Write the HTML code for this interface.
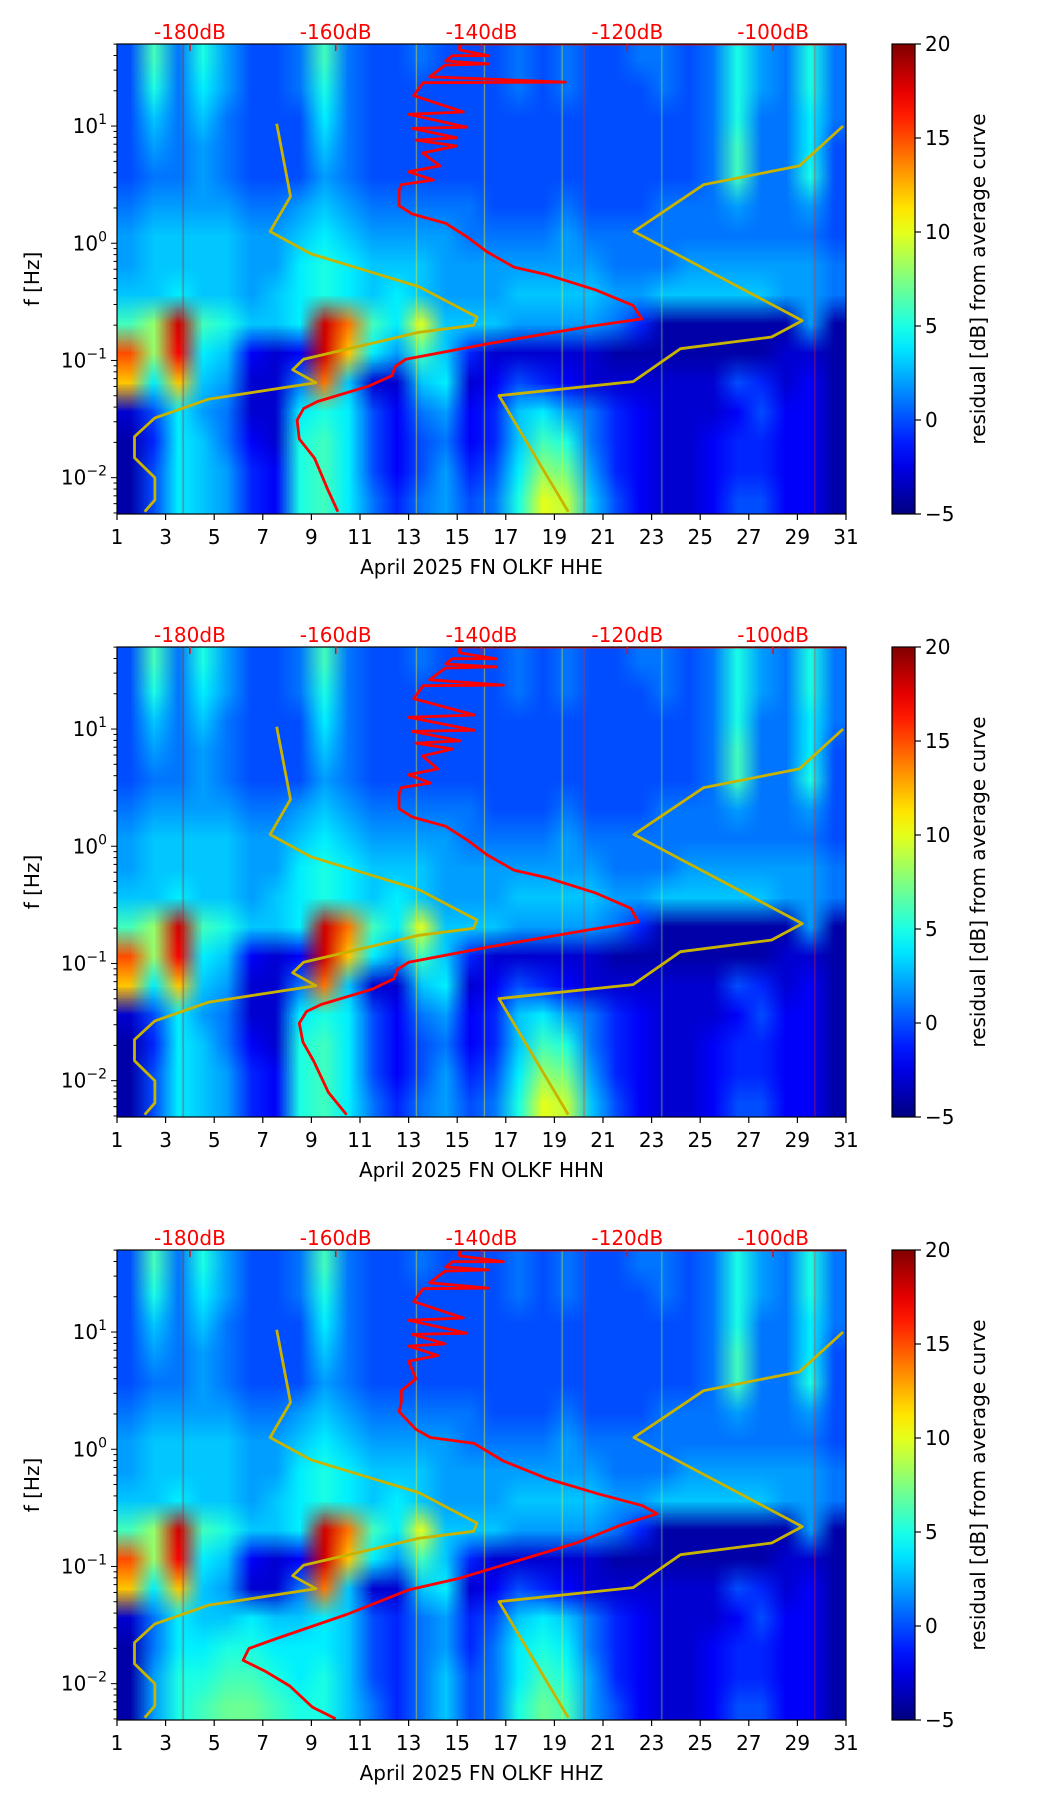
<!DOCTYPE html>
<html><head><meta charset="utf-8">
<style>
html,body{margin:0;padding:0;background:#fff;}
body{width:1052px;height:1806px;position:relative;overflow:hidden;font-family:"DejaVu Sans","Liberation Sans",sans-serif;}
canvas{position:absolute;}
svg{position:absolute;left:0;top:0;}
</style></head>
<body>
<div id="root"></div>
<script>
// ---- data ----
const channels = ["HHE","HHN","HHZ"];
const dbTicks = [-180,-160,-140,-120,-100];
const cbTicks = [-5,0,5,10,15,20];
const dayTicks = [1,3,5,7,9,11,13,15,17,19,21,23,25,27,29,31];
const heatCommon = [
[0,6,1,5,2,0,0,1,6,1,0,0,1,0,0,0,1,0,1,0,0,1,1,0,1,5,2,1,5,1],
[0,5,1,4,2,0,0,1,5,1,0,0,0,0,0,0,1,0,1,0,0,0,1,0,1,5,2,1,5,1],
[0,3,1,3,1,0,0,0,4,1,0,0,0,0,0,0,0,0,0,0,0,0,0,0,1,5,1,1,4,1],
[0,2,1,2,1,0,0,0,3,1,0,0,0,0,0,0,0,0,0,0,0,0,0,0,1,6,1,1,4,0],
[0,1,1,2,1,0,0,0,2,1,0,0,0,0,0,0,0,0,0,0,0,0,0,0,1,6,1,1,5,0],
[1,2,2,2,2,1,1,2,3,2,1,1,1,1,1,0,0,0,1,0,0,0,1,1,1,2,1,1,2,0],
[2,3,3,3,3,2,2,3,4,3,2,2,2,2,1,1,1,1,2,1,1,1,1,1,1,1,1,1,1,0],
[2,3,3,3,3,2,2,4,5,4,3,3,3,2,2,2,2,2,2,2,1,1,1,2,2,2,2,2,2,1],
[3,3,4,3,3,2,3,4,5,4,3,4,3,2,2,2,3,3,3,3,2,2,3,3,3,3,3,2,2,1],
[6,8,18,6,5,3,3,4,18,14,6,4,10,3,3,3,2,2,2,2,1,-1,-4,-4,-4,-4,-4,-4,2,-4],
[15,8,17,4,3,-2,-3,-2,18,12,4,2,6,3,-1,-3,-3,-3,-3,-3,-4,-4,-4,-4,-4,-4,-4,-3,-3,-4],
[12,4,12,3,2,-3,-3,1,14,3,-3,-3,3,4,-3,-2,0,-1,-2,-3,-3,-3,-3,-3,-3,0,-1,-3,-2,-4],
[-3,0,4,2,1,-3,-3,4,5,4,0,-2,1,2,-2,-1,3,4,2,1,-1,-2,-3,-3,-3,-2,0,-2,-2,-4],
[-4,-1,4,3,1,-2,-3,5,6,4,0,-2,0,1,-2,-1,3,6,5,1,-1,-2,-3,-3,-2,-1,-1,-2,-2,-4],
[-4,0,4,3,2,-1,-2,5,6,4,0,-2,0,2,-1,0,4,8,7,2,-1,-2,-3,-3,-2,-1,-1,-2,-2,-4],
[-4,0,4,3,2,-1,-2,5,6,4,1,-1,1,2,0,1,5,10,9,3,0,-2,-3,-3,-2,0,0,-2,-2,-4]];
const heatZLow = [
[-3,1,4,3,3,4,3,3,4,3,0,-1,1,2,-1,0,3,4,3,1,-1,-2,-3,-3,-3,-2,0,-2,-2,-4],
[-4,1,4,4,5,5,4,4,4,3,0,-1,1,2,-1,1,4,5,4,1,-1,-2,-3,-3,-2,-1,-1,-2,-2,-4],
[-4,2,5,5,6,6,5,4,5,3,0,-1,1,3,0,1,4,6,5,2,-1,-2,-3,-3,-2,-1,-1,-2,-2,-4],
[-4,2,5,6,7,7,6,5,5,3,1,-1,1,3,0,1,5,7,6,2,0,-2,-3,-3,-2,0,0,-2,-2,-4]];
const streakDay = [3.7,13.3,16.1,19.3,20.2,23.4,29.7];
const streakVal = [18,11,11,10,16,8,16];
const redDbE = [-90,-143,-143,-139,-144,-144.9,-139,-145,-147.1,-128.5,-148,-149.3,-142.5,-150,-142,-149.5,-143.4,-149,-143.4,-148.1,-145.7,-150,-146.6,-151,-151.3,-151.3,-149.5,-144.9,-142,-139.2,-135.5,-130.9,-124.3,-119.2,-118,-125.3,-139.3,-150.4,-151.8,-152.3,-155.5,-162.5,-164.4,-165.3,-165,-162.9,-161.1,-159.7];
const redLfE = [1.70,1.70,1.65,1.60,1.60,1.555,1.53,1.52,1.42,1.375,1.37,1.26,1.12,1.10,0.99,0.98,0.90,0.88,0.83,0.77,0.66,0.61,0.54,0.50,0.45,0.32,0.25,0.17,0.055,-0.075,-0.205,-0.27,-0.40,-0.53,-0.645,-0.71,-0.86,-0.99,-1.05,-1.13,-1.22,-1.35,-1.41,-1.51,-1.67,-1.835,-2.10,-2.29];
const redDbN = [-90,-143,-143,-138,-144,-144.9,-138,-145,-147.1,-137,-148,-149.3,-141,-150,-141,-149.5,-143,-149,-144,-148.1,-146,-150,-147,-151,-151.3,-151.3,-149.5,-144.9,-142,-139.2,-135.5,-130.9,-124.3,-119.5,-118.5,-125,-139,-150,-151.5,-152,-155,-162,-164,-165,-164.5,-163,-161,-158.5];
const redLfN = redLfE;
const redDbZ = [-90,-143,-143,-137,-144,-144.9,-139,-145,-147.1,-139,-148,-149.3,-142.5,-150,-142,-149.5,-145,-150,-146,-150,-149,-151,-151,-151.3,-149,-147,-141,-137,-131,-124,-118,-115.9,-121,-127,-135,-143,-150,-158.5,-167.9,-171.9,-172.7,-169.5,-166.3,-163.2,-160];
const redLfZ = [1.70,1.70,1.65,1.60,1.60,1.555,1.53,1.52,1.42,1.375,1.37,1.26,1.12,1.10,0.99,0.98,0.90,0.88,0.80,0.75,0.60,0.50,0.40,0.32,0.17,0.10,0.05,-0.10,-0.25,-0.38,-0.48,-0.55,-0.65,-0.80,-0.95,-1.10,-1.20,-1.41,-1.61,-1.70,-1.80,-1.90,-2.02,-2.20,-2.30];
const lowDb = [-168.1,-166.2,-169.0,-163.4,-148.6,-140.6,-141.1,-148.6,-164.4,-165.9,-162.7,-177.4,-184.8,-187.6,-187.6,-184.8,-184.8,-186.2];
const lowLf = [1.02,0.40,0.10,-0.09,-0.37,-0.63,-0.70,-0.76,-0.99,-1.08,-1.19,-1.33,-1.49,-1.65,-1.83,-2.00,-2.19,-2.29];
const highDb = [-90.4,-96.4,-109.5,-119.1,-96.0,-100.2,-112.7,-119.2,-137.6,-128.1];
const highLf = [1.0,0.66,0.50,0.10,-0.66,-0.80,-0.90,-1.18,-1.30,-2.29];

// ---- layout ----
const X0=117, X1=846, H=470, TOPS=[44,647,1250];
const LFMAX=1.70, LFMIN=-2.31;
const CBX0=892, CBX1=915;
const FS=20;
const NS="http://www.w3.org/2000/svg";
function xOf(d){return X0+(d-1)*(X1-X0)/30;}
function dbX(db){return xOf(4+(db+180)*0.3);}
function yOf(T,lf){return T+(LFMAX-lf)/(LFMAX-LFMIN)*H;}
function jet(v){let t=(v+5)/25;t=Math.max(0,Math.min(1,t));
 const c=x=>Math.max(0,Math.min(1,x));
 const r=c(1.5-Math.abs(4*t-3)), g=c(1.5-Math.abs(4*t-2)), b=c(1.5-Math.abs(4*t-1));
 return [Math.round(r*255),Math.round(g*255),Math.round(b*255)];}
function rgb(a){return `rgb(${a[0]},${a[1]},${a[2]})`;}

const root=document.getElementById('root');
const svg=document.createElementNS(NS,'svg');
svg.setAttribute('width','1052');svg.setAttribute('height','1806');


function mk(tag,attrs,parent){const e=document.createElementNS(NS,tag);for(const k in attrs)e.setAttribute(k,attrs[k]);(parent||svg).appendChild(e);return e;}

const defs=mk('defs',{});
const grad=mk('linearGradient',{id:'jetg',x1:'0',y1:'1',x2:'0',y2:'0'},defs);
for(let i=0;i<=20;i++){const v=-5+25*i/20;mk('stop',{offset:(i/20).toString(),'stop-color':rgb(jet(v))},grad);}

channels.forEach((ch,pi)=>{
 const T=TOPS[pi];
 const small=document.createElement('canvas');small.width=30;small.height=16;
 const sctx=small.getContext('2d');const img=sctx.createImageData(30,16);
 for(let r=0;r<16;r++)for(let c=0;c<30;c++){
   let v=heatCommon[r][c];
   if(ch==="HHZ"&&r>=12)v=heatZLow[r-12][c];
   const col=jet(v);const k=(r*30+c)*4;img.data[k]=col[0];img.data[k+1]=col[1];img.data[k+2]=col[2];img.data[k+3]=255;}
 sctx.putImageData(img,0,0);
 const cv=document.createElement('canvas');cv.width=X1-X0;cv.height=H;
 cv.style.left=X0+'px';cv.style.top=T+'px';
 
 
 const ctx=cv.getContext('2d');ctx.imageSmoothingEnabled=true;ctx.drawImage(small,0,0,30,16,0,0,cv.width,cv.height);
 ctx.globalAlpha=0.6;
 streakDay.forEach((d,i)=>{ctx.fillStyle=rgb(jet(streakVal[i]));ctx.fillRect(xOf(d)-X0,0,1,H);});
 ctx.globalAlpha=1;
 root.appendChild(cv);

 const g=mk('g',{});
 
 
 const cp=mk('clipPath',{id:'clip'+pi},defs);mk('rect',{x:X0,y:T,width:X1-X0,height:H},cp);
 function poly(dbs,lfs,color,w,name){const pts=dbs.map((d,i)=>dbX(d).toFixed(1)+','+yOf(T,lfs[i]).toFixed(1)).join(' ');
   const p=mk('polyline',{points:pts,fill:'none',stroke:color,'stroke-width':w,'stroke-linejoin':'round','clip-path':`url(#clip${pi})`},g);
   }
 poly(lowDb,lowLf,'#c8b400',2.8,'low-noise-model-line');
 poly(highDb,highLf,'#c8b400',2.8,'high-noise-model-line');
 const rd=ch==="HHE"?[redDbE,redLfE]:ch==="HHN"?[redDbN,redLfN]:[redDbZ,redLfZ];
 poly(rd[0],rd[1],'#ff0000',2.8,'average-psd-curve');
 mk('rect',{x:X0,y:T,width:X1-X0,height:H,fill:'none',stroke:'#000','stroke-width':1.2},g);
 dayTicks.forEach(d=>{const x=xOf(d);mk('line',{x1:x,y1:T+H,x2:x,y2:T+H+6,stroke:'#000','stroke-width':1.2},g);
   const t=mk('text',{x:x,y:T+H+30,'font-size':FS,'text-anchor':'middle',fill:'#000'},g);t.textContent=d;
   });
 const xl=mk('text',{x:(X0+X1)/2,y:T+H+60,'font-size':FS,'text-anchor':'middle',fill:'#000'},g);
 xl.textContent='April 2025 FN OLKF  '+ch;
 
 for(let e=-3;e<=1;e++){for(let m=1;m<10;m++){const lf=e+Math.log10(m);if(lf<LFMIN||lf>LFMAX)continue;const y=yOf(T,lf);
   mk('line',{x1:X0,y1:y,x2:X0-(m===1?6:3.5),y2:y,stroke:'#000','stroke-width':1},g);
   if(m===1){const t=mk('text',{x:X0-10,y:y+7,'font-size':FS,'text-anchor':'end',fill:'#000'},g);
     const a=mk('tspan',{},t);a.textContent='10';const s=mk('tspan',{dy:-9,'font-size':14},t);s.textContent=(e<0?'\u2212':'')+Math.abs(e);
     }}}
 const yl=mk('text',{x:0,y:0,'font-size':FS,'text-anchor':'middle',fill:'#000',transform:`translate(39,${T+H/2}) rotate(-90)`},g);
 yl.textContent='f [Hz]';
 dbTicks.forEach(db=>{const x=dbX(db);mk('line',{x1:x,y1:T,x2:x,y2:T+7,stroke:'#ff0000','stroke-width':1.5},g);
   const t=mk('text',{x:x,y:T-5,'font-size':FS,'text-anchor':'middle',fill:'#ff0000'},g);t.textContent=db+'dB';
   });
 const cb=mk('rect',{x:CBX0,y:T,width:CBX1-CBX0,height:H,fill:'url(#jetg)',stroke:'#000','stroke-width':1.2},g);
 
 cbTicks.forEach(v=>{const y=T+H-(v+5)/25*H;mk('line',{x1:CBX1,y1:y,x2:CBX1+6,y2:y,stroke:'#000','stroke-width':1.2},g);
   const t=mk('text',{x:CBX1+10,y:y+7,'font-size':FS,fill:'#000'},g);t.textContent=(v<0?'\u2212':'')+Math.abs(v);
   });
 const cl=mk('text',{x:0,y:0,'font-size':FS,'text-anchor':'middle',fill:'#000',transform:`translate(985,${T+H/2}) rotate(-90)`},g);
 cl.textContent='residual [dB] from average curve';
});
root.appendChild(svg);
</script>
</body></html>
